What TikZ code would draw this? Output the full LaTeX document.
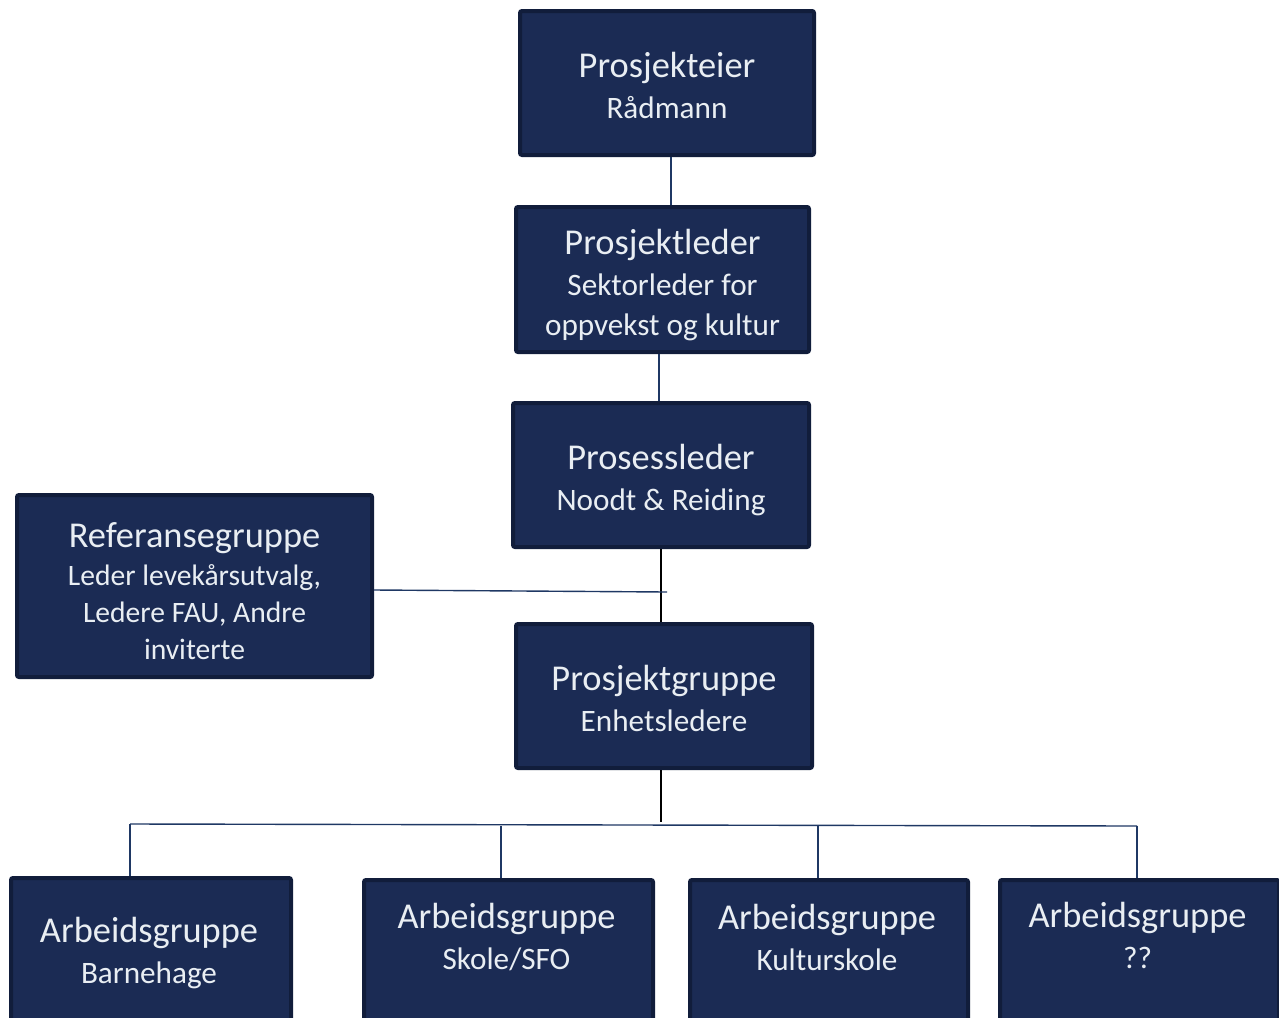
\documentclass[tikz,border=0pt]{standalone}
\usepackage{fontspec}
\setmainfont{Carlito}
\usetikzlibrary{positioning, calc}
\definecolor{boxfill}{HTML}{1B2B54}
\definecolor{boxline}{HTML}{111D3B}
\definecolor{boxtext}{HTML}{E9EEF3}
\definecolor{linkcol}{HTML}{1F3864}
\newcommand{\ttl}[1]{{\fontsize{18.2}{21.5}\selectfont #1}}

\tikzset{
  orgbox/.style={draw=boxline, fill=boxfill, line width=2pt, rounded corners=1pt, inner sep=0pt},
  boxlabel/.style={text=boxtext, align=center, inner sep=0pt, font=\fontsize{15.6}{20}\selectfont},
  link/.style={draw=linkcol, line width=0.7pt}
}

\begin{document}
\begin{tikzpicture}[x=0.5pt, y=-0.5pt]
  \useasboundingbox (0,0) rectangle (1279,1017);
  \clip (0,0) rectangle (1279,1017);
  % Boxes
  \node[orgbox, minimum width=147pt, minimum height=72pt] (eier) at (667,83) {};
  \node[orgbox, minimum width=146.5pt, minimum height=72.5pt] (leder) at (662.5,279.5) {};
  \node[orgbox, minimum width=148pt, minimum height=72pt] (prosess) at (661,475) {};
  \node[orgbox, minimum width=177.5pt, minimum height=91pt] (referanse) at (194.5,586) {};
  \node[orgbox, minimum width=148pt, minimum height=72pt] (gruppe) at (664,696) {};
  \node[boxlabel] (eier-txt) at ([yshift=-1pt]eier.center)
    {\ttl{Prosjekteier}\\[0.5pt] Rådmann};
  \node[boxlabel] (leder-txt) at ([yshift=-3pt]leder.center)
    {\ttl{Prosjektleder}\\[0.5pt] Sektorleder for\\ oppvekst og kultur};
  \node[boxlabel] (prosess-txt) at ([yshift=-2.5pt]prosess.center)
    {\ttl{Prosessleder}\\[0.5pt] Noodt \& Reiding};
  \node[boxlabel, font=\fontsize{14.8}{18.4}\selectfont] (referanse-txt) at ([yshift=-2.5pt]referanse.center)
    {\ttl{Referansegruppe}\\[0.5pt] Leder levekårsutvalg,\\ Ledere FAU, Andre\\ inviterte};
  \node[boxlabel] (gruppe-txt) at ([yshift=-1pt]gruppe.center)
    {\ttl{Prosjektgruppe}\\[0.5pt] Enhetsledere};
  % Arbeidsgrupper
  \foreach \nm/\xl/\xr/\yt/\ty/\sub in {
    barnehage/8/290/875/953/Barnehage,
    skole/361/652/877/937/{Skole/SFO},
    kultur/687/967/877/937/Kulturskole,
    annen/997/1278/877/935/??}{
    \node[orgbox, anchor=north west, minimum width={(\xr-\xl)*0.5pt-1pt},
      minimum height=90pt] (\nm) at (\xl+1,\yt+1) {};
    \node[boxlabel] (\nm-txt) at ({(\xl+\xr)/2}, \ty) {\ttl{Arbeidsgruppe}\\[0.5pt] \sub};
  }
  % Connectors
  \coordinate (refjoin) at (667,592);
  \coordinate (fork) at (661,822);
  \coordinate (barnehage-up) at (130,824);
  \coordinate (skole-up) at (501,826);
  \coordinate (kultur-up) at (818,826);
  \coordinate (annen-up) at (1137,826);
  \draw[link] (eier.south -| 671,0) -- (leder.north -| 671,0);
  \draw[link] (leder.south -| 659,0) -- (prosess.north -| 659,0);
  \draw[line width=0.8pt] (prosess.south -| 661,0) -- (gruppe.north -| 661,0);
  \draw[link] ([yshift=-2pt]referanse.east) -- (refjoin);
  \draw[line width=0.8pt] (gruppe.south -| fork) -- (fork);
  \draw[link] (barnehage-up) -- (annen-up);
  \foreach \nm in {barnehage, skole, kultur, annen}
    \draw[link] (\nm-up) -- (\nm-up |- \nm.north);
\end{tikzpicture}
\end{document}
